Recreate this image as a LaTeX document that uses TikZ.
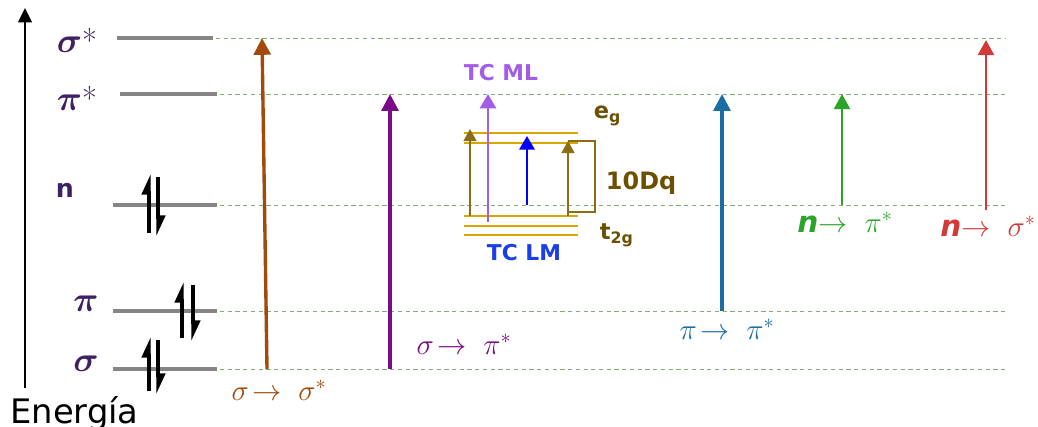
\documentclass[tikz,border=0pt]{standalone}
\usepackage{amsmath,amssymb}
\usepackage{fontspec}
\setsansfont{DejaVu Sans}
\usepackage{tikz}
\usetikzlibrary{arrows.meta}

\definecolor{levgray}{HTML}{858585}
\definecolor{guidegreen}{HTML}{7FAF72}
\definecolor{lblpurple}{HTML}{3D2163}
\definecolor{ssbrown}{HTML}{A24A0A}
\definecolor{spurple}{HTML}{7B0A86}
\definecolor{tcviolet}{HTML}{A35CE6}
\definecolor{ppblue}{HTML}{1B6EA5}
\definecolor{npgreen}{HTML}{2AA52A}
\definecolor{nsred}{HTML}{D23A3A}
\definecolor{cfgold}{HTML}{D9A800}
\definecolor{cfdark}{HTML}{8C6D14}
\definecolor{dqtext}{HTML}{6B5000}
\definecolor{tcblue}{HTML}{1A3EE8}

\begin{document}
\begin{tikzpicture}[x=0.025cm,y=-0.025cm,
    level/.style={draw=levgray,line width=2.2pt},
    guide/.style={draw=guidegreen,line width=0.6pt,dash pattern=on 3pt off 2.5pt},
    trans/.style={line width=2.4pt,-{Triangle[length=4.2mm,width=4.2mm]}},
    small/.style={line width=1.3pt,-{Triangle[length=3mm,width=3.2mm]}},
    spin/.style={line width=2.3pt,-{Triangle[harpoon,length=4.2mm,width=3.6mm]}},
    cfline/.style={draw=cfgold,line width=2pt},
    lvlabel/.style={text=lblpurple,font=\fontsize{23}{27}\selectfont\boldmath},
    trlabel/.style={font=\fontsize{21}{25}\selectfont},
    tclabel/.style={font=\fontsize{15.5}{18}\selectfont\sffamily\bfseries}]
  \useasboundingbox (0,0) rectangle (1038,427);

  % energy axis
  \coordinate (ebot) at (25,388);
  \coordinate (etop) at (25,8);
  \draw[line width=1.8pt,-{Triangle[length=3.6mm,width=3.4mm]}] (ebot) -- (etop);
  \node[anchor=base west,inner sep=0pt,font=\fontsize{24}{28}\selectfont\sffamily] (energia) at (10,423) {Energía};

  % levels and guide lines
  \foreach \nm/\yy/\xa/\xb in {ss/38/117/213,ps/94/120/217,nn/205/113/217,pp/311/113/217,sg/369/113/217}{
    \coordinate (L-\nm) at (\xa,\yy);
    \coordinate (M-\nm) at (\xb,\yy);
    \coordinate (R-\nm) at (1005,\yy);
    \draw[level] (L-\nm) -- (M-\nm);
    \draw[guide] (M-\nm) ++(3,0) -- (R-\nm);
  }
  \node[lvlabel] (lbl-ss) at (77,40) {$\sigma$*};
  \node[lvlabel] (lbl-ps) at (77,98) {$\pi$*};
  \node[text=lblpurple,font=\fontsize{18}{21}\selectfont\sffamily\bfseries] (lbl-nn) at (65,190) {n};
  \node[lvlabel] (lbl-pp) at (86,304) {$\pi$};
  \node[lvlabel] (lbl-sg) at (86,364) {$\sigma$};

  % electrons
  \foreach \nm/\xu/\xd/\ya/\yb in {nn/149/158/174/236,pp/182/193/282/341,sg/149/158/337/394}{
    \coordinate (u0-\nm) at (\xu,\yb-3);
    \coordinate (u1-\nm) at (\xu,\ya);
    \coordinate (d0-\nm) at (\xd,\ya+3);
    \coordinate (d1-\nm) at (\xd,\yb);
    \draw[spin] (u0-\nm) -- (u1-\nm);
    \draw[spin] (d0-\nm) -- (d1-\nm);
  }

  % crystal field levels
  \foreach \nm/\yy in {eg1/133,eg2/143,tg1/216,tg2/226,tg3/235}{
    \coordinate (cfa-\nm) at (464,\yy);
    \coordinate (cfb-\nm) at (578,\yy);
    \draw[cfline] (cfa-\nm) -- (cfb-\nm);
  }
  \coordinate (dq1) at (568,141);
  \coordinate (dq2) at (595,141);
  \coordinate (dq3) at (595,212);
  \coordinate (dq4) at (568,212);
  \draw[cfdark,line width=1pt] (dq1) -- (dq2) -- (dq3) -- (dq4);
  \coordinate (ga0) at (470,216);
  \coordinate (ga1) at (470,129);
  \coordinate (gb0) at (568,216);
  \coordinate (gb1) at (568,141);
  \draw[small,cfdark] (ga0) -- (ga1);
  \draw[small,cfdark] (gb0) -- (gb1);
  \coordinate (bl0) at (527,205);
  \coordinate (bl1) at (527,136);
  \draw[blue,line width=1.8pt,-{Triangle[length=3.4mm,width=3.8mm]}] (bl0) -- (bl1);
  \node[anchor=west,text=dqtext,font=\fontsize{16}{19}\selectfont\sffamily\bfseries] (eg) at (589,116) {e\textsubscript{g}};
  \node[anchor=west,text=dqtext,font=\fontsize{16}{19}\selectfont\sffamily\bfseries] (t2g) at (595,235) {t\textsubscript{2g}};
  \node[anchor=west,text=dqtext,font=\fontsize{17}{20}\selectfont\sffamily\bfseries] (tendq) at (601,183) {10Dq};
  \node[tclabel,text=tcblue] (tclm) at (524,253) {TC LM};

  % transitions
  \coordinate (a0) at (267,369);  \coordinate (a1) at (262,38);
  \coordinate (b0) at (390,369);  \coordinate (b1) at (390,94);
  \coordinate (c0) at (488,222);  \coordinate (c1) at (488,94);
  \coordinate (d0) at (722,311);  \coordinate (d1) at (722,94);
  \coordinate (e0) at (842,205);  \coordinate (e1) at (842,94);
  \coordinate (f0) at (986,210);  \coordinate (f1) at (986,40);
  \draw[trans,ssbrown] (a0) -- (a1);
  \draw[trans,spurple] (b0) -- (b1);
  \draw[tcviolet,line width=2pt,-{Triangle[length=3.6mm,width=4mm]}] (c0) -- (c1);
  \draw[trans,ppblue] (d0) -- (d1);
  \draw[npgreen,line width=2pt,-{Triangle[length=3.8mm,width=4mm]}] (e0) -- (e1);
  \draw[nsred,line width=2pt,-{Triangle[length=3.8mm,width=4mm]}] (f0) -- (f1);

  \node[trlabel,text=ssbrown] (lbl-a) at (279,390) {$\sigma\!\rightarrow\ \sigma^{*}$};
  \node[trlabel,text=spurple] (lbl-b) at (464,344) {$\sigma\!\rightarrow\ \pi^{*}$};
  \node[tclabel,text=tcviolet] (tcml) at (501,73) {TC ML};
  \node[trlabel,text=ppblue] (lbl-d) at (727,329) {$\pi\!\rightarrow\ \pi^{*}$};
  \node[trlabel,text=npgreen] (lbl-e) at (845,222) {{\sffamily\bfseries\itshape n}$\rightarrow\ \pi^{*}$};
  \node[trlabel,text=nsred] (lbl-f) at (988,226) {{\sffamily\bfseries\itshape n}$\rightarrow\ \sigma^{*}$};
\end{tikzpicture}
\end{document}
